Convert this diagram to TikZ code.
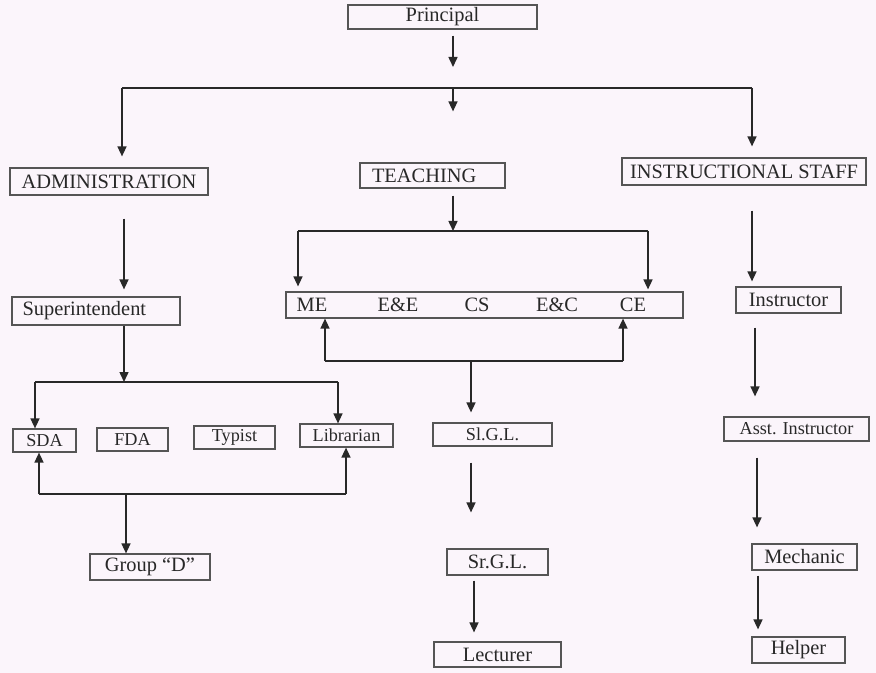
\documentclass[tikz,border=0pt]{standalone}
\usepackage{fontspec}
\setmainfont{Liberation Serif}
\usepackage{tikz}
\usetikzlibrary{arrows.meta}
\definecolor{paper}{RGB}{251,245,251}
\definecolor{ink}{RGB}{40,40,40}
\definecolor{frame}{RGB}{85,85,85}
\newcommand{\mainsize}{\fontsize{10.2}{12}\selectfont}
\newcommand{\smallsize}{\fontsize{9.1}{11}\selectfont}

\begin{document}
\begin{tikzpicture}[
  x = 0.5pt,
  y = -0.5pt,
  box/.style = {
    draw = frame,
    line width = 0.6pt,
    rectangle,
    inner sep = 0pt,
    text = ink,
    font = \mainsize,
  },
  sbox/.style = {
    box,
    font = \smallsize,
  },
  lbox/.style = {
    box,
    align = left,
  },
  dept/.style = {
    text = ink,
    font = \mainsize,
    inner sep = 0pt,
  },
  line/.style = {
    draw = ink,
    line width = 0.75pt,
  },
  arr/.style = {
    line,
    ->,
  },
  >={Triangle[width=4.5pt,length=5pt]},
]

  \fill[paper] (0,0) rectangle (876,673);

  \node[box,minimum width=94.5pt,minimum height=12pt] (pri) at (442.5,17) {Principal};

  \node[box,minimum width=99pt,minimum height=13.5pt] (adm) at (109,181.5) {ADMINISTRATION};
  \node[lbox,minimum width=72.5pt,minimum height=12.5pt,inner xsep=6pt,text width=60.5pt] (tea) at (432.5,175.5) {TEACHING};
  \node[box,minimum width=122pt,minimum height=13.5pt] (ins) at (744,171.5) {INSTRUCTIONAL STAFF};

  \node[lbox,minimum width=84pt,minimum height=14pt,inner xsep=5.3pt,text width=73.4pt] (sup) at (96,311) {Superintendent};
  \node[sbox,minimum width=31.5pt,minimum height=11.5pt] (sda) at (44.5,440.5) {SDA};
  \node[sbox,minimum width=35.5pt,minimum height=11.5pt] (fda) at (132.5,439.5) {FDA};
  \node[sbox,minimum width=40.5pt,minimum height=11.5pt] (typ) at (234.5,437.5) {Typist};
  \node[sbox,minimum width=46.5pt,minimum height=11.5pt] (lib) at (346.5,435.5) {Librarian};
  \node[box,minimum width=60pt,minimum height=13pt] (grd) at (150,567) {Group ``D''};

  \node[box,minimum width=198.5pt,minimum height=13pt] (dep) at (484.5,305) {};
  \node[dept] (dme) at (312,305) {ME};
  \node[dept] (dee) at (398,305) {E\&E};
  \node[dept] (dcs) at (477,305) {CS};
  \node[dept] (dec) at (557,305) {E\&C};
  \node[dept] (dce) at (633,305) {CE};
  \node[sbox,minimum width=59.5pt,minimum height=11.5pt] (sgl) at (492.5,434.5) {Sl.G.L.};
  \node[box,minimum width=50.5pt,minimum height=13pt] (srg) at (497.5,562) {Sr.G.L.};
  \node[box,minimum width=63.5pt,minimum height=12.5pt] (lec) at (497.5,654.5) {Lecturer};

  \node[box,minimum width=52.5pt,minimum height=13pt] (ist) at (788.5,300) {Instructor};
  \node[sbox,minimum width=72.5pt,minimum height=12pt] (ain) at (796.5,429) {Asst. Instructor};
  \node[box,minimum width=52.5pt,minimum height=13pt] (mec) at (804.5,557) {Mechanic};
  \node[box,minimum width=46.5pt,minimum height=13pt] (hel) at (798.5,650) {Helper};

  % junctions
  \coordinate (pb) at (453,88);
  \coordinate (pl) at (122,88);
  \coordinate (pr) at (752,88);
  \coordinate (tb) at (453,231);
  \coordinate (tl) at (298,231);
  \coordinate (tr) at (648,231);
  \coordinate (ub) at (471,361);
  \coordinate (ul) at (325,361);
  \coordinate (ur) at (623,361);
  \coordinate (sb) at (124,382);
  \coordinate (sl) at (35,382);
  \coordinate (sr) at (338,382);
  \coordinate (gb) at (126,494);
  \coordinate (gl) at (39,494);
  \coordinate (gr) at (346,494);

  \draw[arr,shorten <=3pt,shorten >=10.5pt] (pri.south -| pb) -- (pb);
  \draw[line] (pl) -- (pr);
  \draw[arr,shorten >=5.5pt] (pl) -- (pl |- adm.north);
  \draw[arr,shorten >=25.5pt] (pb) -- (pb |- tea.north);
  \draw[arr,shorten >=5.5pt] (pr) -- (pr |- ins.north);

  \draw[arr,shorten <=11.5pt,shorten >=3.5pt] (adm.south -| sb) -- (sup.north -| sb);
  \draw[arr] (sup.south -| sb) -- (sb);
  \draw[line] (sl) -- (sr);
  \draw[arr] (sl) -- (sl |- sda.north);
  \draw[arr] (sr) -- (sr |- lib.north);
  \draw[arr] (gl) -- (gl |- sda.south);
  \draw[arr] (gr) -- (gr |- lib.south);
  \draw[line] (gl) -- (gr);
  \draw[arr] (gb) -- (gb |- grd.north);

  \draw[arr,shorten <=3.5pt] (tea.south -| tb) -- (tb);
  \draw[line] (tl) -- (tr);
  \draw[arr,shorten >=2.5pt] (tl) -- (tl |- dep.north);
  \draw[arr,shorten >=1pt] (tr) -- (tr |- dep.north);
  \draw[arr] (ul) -- (ul |- dep.south);
  \draw[arr] (ur) -- (ur |- dep.south);
  \draw[line] (ul) -- (ur);
  \draw[arr,shorten >=5pt] (ub) -- (ub |- sgl.north);
  \draw[arr,shorten <=8pt,shorten >=18pt] (sgl.south -| ub) -- (srg.north -| ub);
  \draw[arr,shorten <=2.5pt,shorten >=4.5pt] ([xshift=1.5pt]srg.south -| ub) -- ([xshift=1.5pt]lec.north -| ub);

  \draw[arr,shorten <=12.5pt,shorten >=2.5pt] (ins.south -| pr) -- (ist.north -| pr);
  \draw[arr,shorten <=7pt,shorten >=10pt] ([xshift=1.5pt]ist.south -| pr) -- ([xshift=1.5pt]ain.north -| pr);
  \draw[arr,shorten <=8pt,shorten >=8pt] ([xshift=2.5pt]ain.south -| pr) -- ([xshift=2.5pt]mec.north -| pr);
  \draw[arr,shorten <=2.5pt,shorten >=3.5pt] ([xshift=3pt]mec.south -| pr) -- ([xshift=3pt]hel.north -| pr);

\end{tikzpicture}
\end{document}
